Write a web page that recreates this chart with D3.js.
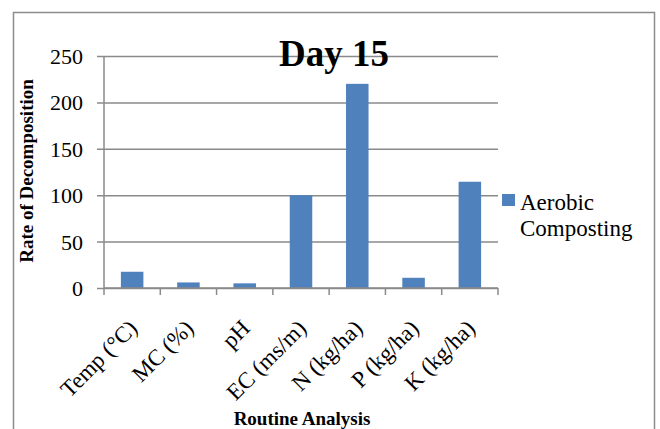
<!DOCTYPE html>
<html>
<head>
<meta charset="utf-8">
<script src="https://cdn.jsdelivr.net/npm/d3@7"></script>
<style>
  body { margin: 0; background: #fff; }
  svg text { font-family: "Liberation Serif", "Times New Roman", serif; }
</style>
</head>
<body>
<div id="chart"></div>
<script>
// Chart data.
var categories = ["Temp (°C)", "MC (%)", "pH", "EC (ms/m)", "N (kg/ha)", "P (kg/ha)", "K (kg/ha)"];
var aerobicValues = [17.5, 6, 5, 100, 220, 11, 114.5];
var yTicks = [0, 50, 100, 150, 200, 250];
var seriesName = "Aerobic Composting";

// Layout parameters.
var svgWidth = 660;
var svgHeight = 429;

var plot = { left: 104, right: 498, top: 56, bottom: 288 };

var svg = d3.select("#chart")
  .append("svg")
  .attr("width", svgWidth)
  .attr("height", svgHeight);

// Outer chart border.
svg.append("rect")
  .attr("x", 13.5)
  .attr("y", 12.5)
  .attr("width", 641)
  .attr("height", 440)
  .attr("fill", "none")
  .attr("stroke", "#8c8c8c")
  .attr("stroke-width", 1.5);

// Scales.
var xScale = d3.scaleBand()
  .domain(categories)
  .range([plot.left, plot.right])
  .paddingInner(0)
  .paddingOuter(0);

var yScale = d3.scaleLinear()
  .domain([0, 250])
  .range([plot.bottom, plot.top]);

// Gridlines + y axis.
var leftAxis = d3.axisLeft(yScale)
  .tickValues(yTicks)
  .tickSize(-(plot.right - plot.left))
  .tickPadding(21)
  .tickFormat(d3.format("d"));

var yAxisG = svg.append("g")
  .attr("transform", `translate(${plot.left}, 0)`)
  .call(leftAxis)
  .attr("font-family", null)
  .attr("font-size", null);

yAxisG.select(".domain").remove();
yAxisG.selectAll(".tick line")
  .attr("x1", -7)
  .attr("stroke", "#8a8a8a")
  .attr("stroke-width", 1.5);
yAxisG.selectAll(".tick text")
  .style("font-size", "22px")
  .attr("fill", "#000")
  .attr("dy", "0.34em");

// Bars.
var barWidth = xScale.bandwidth() / 2.5;
svg.selectAll(".bar")
  .data(aerobicValues)
  .enter()
  .append("rect")
  .attr("class", "bar")
  .attr("x", (d, i) => xScale(categories[i]) + (xScale.bandwidth() - barWidth) / 2)
  .attr("y", d => yScale(d))
  .attr("width", barWidth)
  .attr("height", d => yScale(0) - yScale(d))
  .attr("fill", "#4f81bd");

// Y axis line.
svg.append("line")
  .attr("x1", plot.left).attr("x2", plot.left)
  .attr("y1", plot.top).attr("y2", plot.bottom)
  .attr("stroke", "#8a8a8a")
  .attr("stroke-width", 1.5);

// X axis line and category ticks.
svg.append("line")
  .attr("x1", plot.left).attr("x2", plot.right)
  .attr("y1", plot.bottom).attr("y2", plot.bottom)
  .attr("stroke", "#8a8a8a")
  .attr("stroke-width", 1.5);

var boundaries = categories.map(c => xScale(c)).concat([plot.right]);
svg.selectAll(".xtick")
  .data(boundaries)
  .enter()
  .append("line")
  .attr("x1", d => d).attr("x2", d => d)
  .attr("y1", plot.bottom).attr("y2", plot.bottom + 7)
  .attr("stroke", "#8a8a8a")
  .attr("stroke-width", 1.5);

// Rotated category labels.
svg.selectAll(".xlabel")
  .data(categories)
  .enter()
  .append("text")
  .attr("transform", d => `translate(${xScale(d) + xScale.bandwidth() / 2 - 5}, 318) rotate(-45)`)
  .attr("text-anchor", "end")
  .attr("dy", "0.71em")
  .style("font-size", "23px")
  .attr("fill", "#000")
  .text(d => d);

// Title.
svg.append("text")
  .attr("x", 334)
  .attr("y", 66)
  .attr("text-anchor", "middle")
  .style("font-size", "37px")
  .style("font-weight", "bold")
  .text("Day 15");

// Axis titles.
svg.append("text")
  .attr("transform", "translate(33, 171) rotate(-90)")
  .attr("text-anchor", "middle")
  .style("font-size", "19px")
  .style("font-weight", "bold")
  .text("Rate of Decomposition");

svg.append("text")
  .attr("x", 302)
  .attr("y", 425)
  .attr("text-anchor", "middle")
  .style("font-size", "19px")
  .style("font-weight", "bold")
  .text("Routine Analysis");

// Legend.
var legend = svg.append("g");
legend.append("rect")
  .attr("x", 502)
  .attr("y", 194)
  .attr("width", 13)
  .attr("height", 12)
  .attr("fill", "#4f81bd");

legend.append("text")
  .attr("x", 520)
  .attr("y", 210)
  .style("font-size", "23px")
  .selectAll("tspan")
  .data(seriesName.split(" "))
  .enter()
  .append("tspan")
  .attr("x", 520)
  .attr("dy", (d, i) => i === 0 ? 0 : 26)
  .text(d => d);
</script>
</body>
</html>
